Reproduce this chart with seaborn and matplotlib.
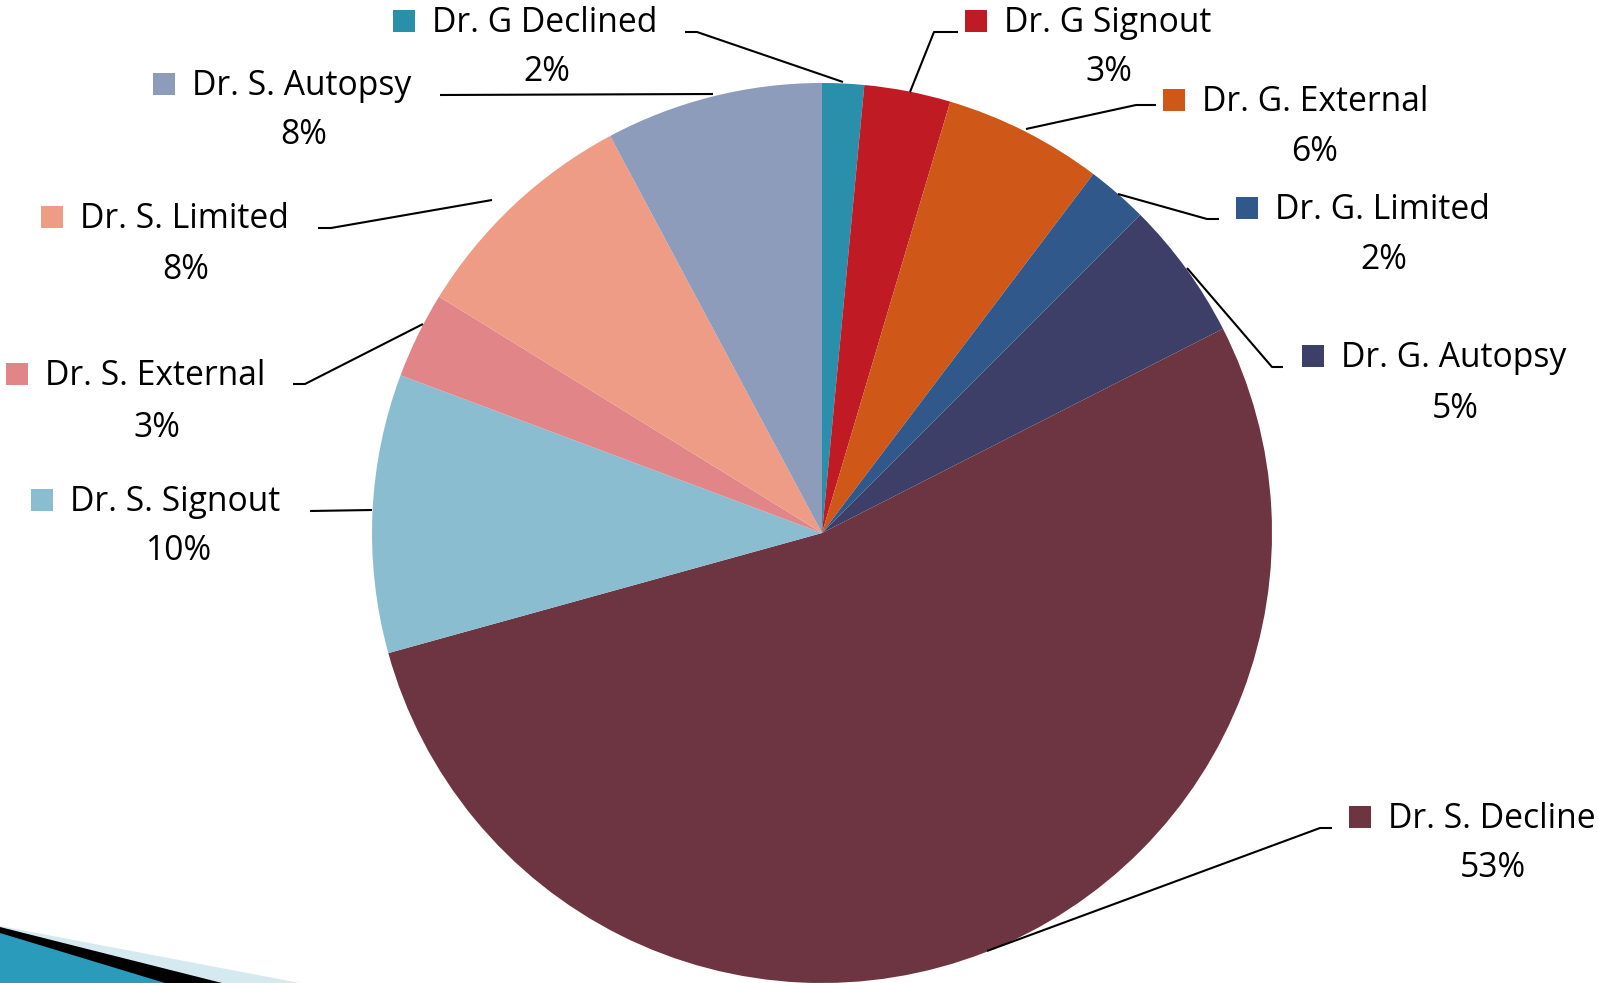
import matplotlib
matplotlib.use("Agg")
import matplotlib.pyplot as plt
import seaborn as sns

sns.set_theme(style="white")
plt.rcParams['font.family'] = ['Open Sans', 'DejaVu Sans']

# ---- data (clockwise from 12 o'clock) ----
labels = ["Dr. G Declined", "Dr. G Signout", "Dr. G. External", "Dr. G. Limited",
          "Dr. G. Autopsy", "Dr. S. Decline", "Dr. S. Signout", "Dr. S. External",
          "Dr. S. Limited", "Dr. S. Autopsy"]
values = [1.5, 3.1, 5.7, 2.2, 5.0, 53.2, 10.0, 3.1, 8.4, 7.8]
colors = ["#2A8FAA", "#C01B24", "#CF5717", "#31588A", "#3D3F69",
          "#6D3441", "#8BBDD0", "#E28588", "#EF9C87", "#8C9CBA"]

W, H = 1598, 983
fig = plt.figure(figsize=(W / 100, H / 100), dpi=100)
ax = fig.add_axes([0, 0, 1, 1])

def Y(y):  # image-pixel y -> data y
    return H - y

# decorative corner shapes (bottom-left)
ax.fill([0, 300, 0], [Y(926), Y(983), Y(983)], color="#D5E9F1", lw=0, zorder=0)
ax.fill([0, 222, 0], [Y(927), Y(983), Y(983)], color="#000000", lw=0, zorder=0)
ax.fill([0, 165, 0], [Y(933), Y(983), Y(983)], color="#2A9BBB", lw=0, zorder=0)

ax.pie(values, colors=colors, startangle=90, counterclock=False,
       center=(822, Y(533)), radius=450,
       wedgeprops=dict(linewidth=0))

# label layout: (square left x, row center y, percent center x, percent center y)
layout = [
    (393, 21, 547, 69),
    (965, 21, 1109, 69),
    (1163, 100, 1315, 149),
    (1236, 208, 1384, 257),
    (1302, 356, 1455, 406),
    (1349, 817, 1493, 865),
    (31, 500, 178, 548),
    (6, 374, 157, 425),
    (41, 217, 186, 267),
    (153, 84, 304, 132),
]
leaders = [
    [(685, 32), (697, 32), (843, 82)],
    [(958, 32), (934, 32), (910, 92)],
    [(1156, 105), (1136, 105), (1026, 129)],
    [(1219, 219), (1207, 219), (1118, 194)],
    [(1283, 367), (1272, 367), (1187, 268)],
    [(1332, 828), (1320, 828), (987, 951)],
    [(310, 511), (372, 510)],
    [(293, 384), (305, 384), (423, 324)],
    [(318, 228), (331, 228), (492, 200)],
    [(440, 95), (713, 94)],
]

fs = 24.2
sq = 22
total = sum(values)
for lab, val, col, (sx, sy, px, py), pts in zip(labels, values, colors, layout, leaders):
    ax.add_patch(plt.Rectangle((sx, Y(sy) - sq / 2), sq, sq, color=col, lw=0))
    ax.text(sx + sq + 17, Y(sy) - 2, lab, ha="left", va="center", fontsize=fs, color="black")
    ax.text(px, Y(py) - 3, f"{round(val / total * 100):d}%", ha="center", va="center",
            fontsize=fs, color="black")
    ax.plot([p[0] for p in pts], [Y(p[1]) for p in pts], color="black", lw=1.5,
            solid_capstyle="butt")

ax.set_xlim(0, W)
ax.set_ylim(0, H)
ax.set_aspect("equal")
ax.axis("off")
fig.savefig("out.png", dpi=100)
